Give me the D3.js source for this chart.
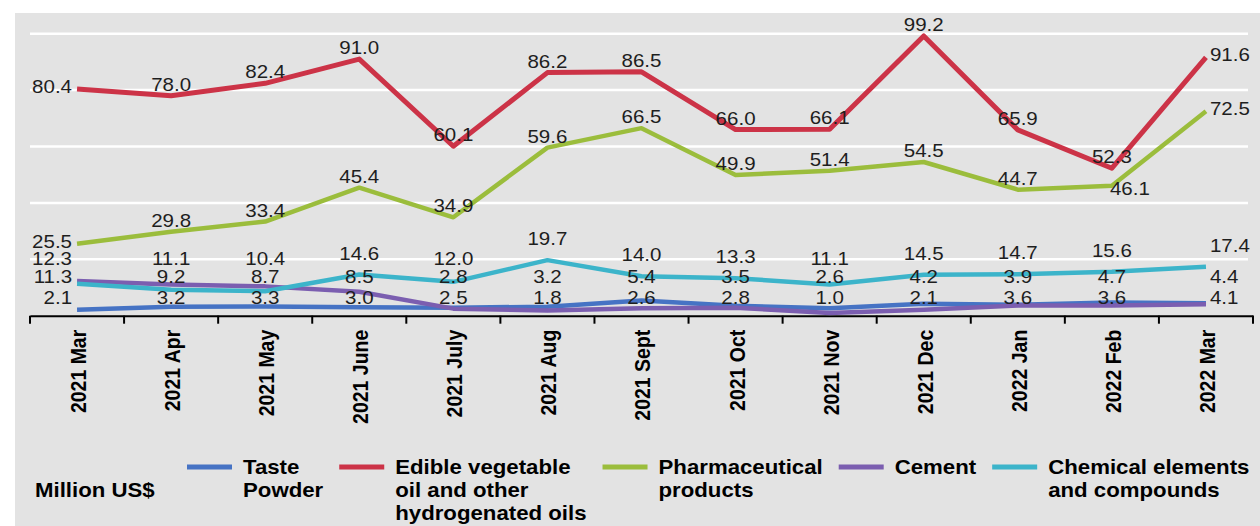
<!DOCTYPE html>
<html><head><meta charset="utf-8">
<script src="https://cdn.jsdelivr.net/npm/d3@7"></script>
<style>body{margin:0;background:#fff;} svg{display:block;font-family:"Liberation Sans",Arial,sans-serif;}</style>
</head><body><svg id="chart" width="1260" height="526"></svg>
<script>
const categories = ["2021 Mar","2021 Apr","2021 May","2021 June","2021 July","2021 Aug","2021 Sept","2021 Oct","2021 Nov","2021 Dec","2022 Jan","2022 Feb","2022 Mar"];
const tastePowder = [2.1,3.2,3.3,3.0,2.8,3.2,5.4,3.5,2.6,4.2,3.9,4.7,4.4];
const edibleOil = [80.4,78.0,82.4,91.0,60.1,86.2,86.5,66.0,66.1,99.2,65.9,52.3,91.6];
const pharmaceutical = [25.5,29.8,33.4,45.4,34.9,59.6,66.5,49.9,51.4,54.5,44.7,46.1,72.5];
const cement = [12.3,11.1,10.4,8.5,2.5,1.8,2.6,2.8,1.0,2.1,3.6,3.6,4.1];
const chemical = [11.3,9.2,8.7,14.6,12.0,19.7,14.0,13.3,11.1,14.5,14.7,15.6,17.4];
const yTicks = [0,20,40,60,80,100];
const unitLabel = "Million US$";
const legendLines = [["Taste","Powder"],["Edible vegetable","oil and other","hydrogenated oils"],["Pharmaceutical","products"],["Cement"],["Chemical elements","and compounds"]];
const seriesColors = ["#4673c4","#cc3347","#9bbd3c","#7b5eb0","#3cb4ca"];

const seriesValues = [tastePowder, edibleOil, pharmaceutical, cement, chemical];
const upperSeries = [1,2];
const lowerSeries = [0,3,4];

const W = 1260, H = 526;
const STRETCH = 1.14;
const plot = {left:30, right:1253, top:33.7, bottom:315.7};
const svg = d3.select("#chart");

svg.append("rect").attr("x",15).attr("y",13).attr("width",W-15).attr("height",H-13).attr("fill","#e3e3e3");

const x = d3.scaleBand().domain(categories).range([plot.left, plot.right]).padding(0);
const cx = c => x(c) + x.bandwidth()/2;
const y = d3.scaleLinear().domain([d3.min(yTicks), d3.max(yTicks)]).range([plot.bottom, plot.top]);

// gridlines
svg.append("g").selectAll("line").data(yTicks.filter(d => d > 0)).join("line")
  .attr("x1", plot.left).attr("x2", plot.right - 5)
  .attr("y1", d => y(d)).attr("y2", d => y(d))
  .attr("stroke","#ffffff").attr("stroke-width",2.5);

// x axis
const gx = svg.append("g").attr("transform",`translate(0,${plot.bottom})`)
  .call(d3.axisBottom(x).tickSize(0).tickSizeOuter(0).tickPadding(0));
gx.select(".domain").attr("stroke","#000").attr("stroke-width",2);
gx.selectAll(".tick text")
  .attr("font-size",19.5).attr("font-weight","bold").attr("fill","#000")
  .attr("font-family",'"Liberation Sans",Arial,sans-serif')
  .attr("text-anchor","end").attr("y",null).attr("dy",null)
  .attr("dominant-baseline","central")
  .attr("transform",`translate(1,14) rotate(-90) scale(1,${STRETCH})`);
// boundary ticks
const edges = d3.range(categories.length + 1).map(i => plot.left + i * x.bandwidth());
svg.append("g").selectAll("line").data(edges).join("line")
  .attr("x1", d => d).attr("x2", d => d)
  .attr("y1", plot.bottom).attr("y2", plot.bottom + 8)
  .attr("stroke","#000").attr("stroke-width",2);

// lines
const line = d3.line().x((d,i) => cx(categories[i])).y(d => y(d));
svg.append("g").selectAll("path").data(seriesValues).join("path")
  .attr("d", d => line(d))
  .attr("fill","none")
  .attr("stroke", (d,i) => seriesColors[i])
  .attr("stroke-width", (d,i) => i === 1 ? 5 : 4.5)
  .attr("stroke-linejoin","round");

// labels
const labelG = svg.append("g").attr("font-size",18).attr("fill","#1e1e1e");
function addLabel(text, lx, ly, anchor) {
  labelG.append("text").text(text)
    .attr("text-anchor", anchor)
    .attr("dominant-baseline","central")
    .attr("transform", `translate(${lx},${ly}) scale(${STRETCH},1)`);
}
const last = categories.length - 1;
function placeX(i, px) {
  if (i === 0) return [px - 5, "end"];
  if (i === last) return [px + 4, "start"];
  return [px, "middle"];
}
// upper series
upperSeries.forEach(s => {
  seriesValues[s].forEach((v, i) => {
    const px = cx(categories[i]), py = y(v);
    let [lx, anchor] = placeX(i, px);
    let ly = (i === 0 || i === last) ? py - 2 : py - 11;
    const crowded = upperSeries.some(o => o !== s && seriesValues[o][i] > v && seriesValues[o][i] - v < 10);
    if (crowded && i !== 0 && i !== last) { lx = px - 2; anchor = "start"; ly = py + 3; }
    addLabel(v.toFixed(1), lx, ly, anchor);
  });
});
// lower series: stacked rows by rank
categories.forEach((c, i) => {
  const px = cx(c);
  const ranked = lowerSeries.slice().sort((a,b) => seriesValues[b][i] - seriesValues[a][i]);
  ranked.forEach((s, r) => {
    const v = seriesValues[s][i];
    const [lx, anchor] = placeX(i, px);
    let ly;
    if (r === 0) ly = Math.min(y(v) - 21, 259);
    else if (r === 1) ly = 277;
    else ly = 298;
    addLabel(v.toFixed(1), lx, ly, anchor);
  });
});

// legend
const legG = svg.append("g").attr("font-size",19.5).attr("font-weight","bold").attr("fill","#000");
const legY = 467, lineH = 23;
legG.append("text").text(unitLabel).attr("dominant-baseline","central")
  .attr("transform",`translate(35,${legY + lineH}) scale(${STRETCH},1)`);
let lx = 187;
legendLines.forEach((lines, k) => {
  legG.append("line").attr("x1",lx).attr("x2",lx+45).attr("y1",legY).attr("y2",legY)
    .attr("stroke",seriesColors[k]).attr("stroke-width",5);
  const tx = lx + 56;
  let maxW = 0;
  lines.forEach((t, j) => {
    const el = legG.append("text").text(t).attr("dominant-baseline","central")
      .attr("transform",`translate(${tx},${legY + j*lineH}) scale(${STRETCH},1)`);
    maxW = Math.max(maxW, el.node().getComputedTextLength() * STRETCH);
  });
  lx = tx + maxW + 16;
});
</script></body></html>
